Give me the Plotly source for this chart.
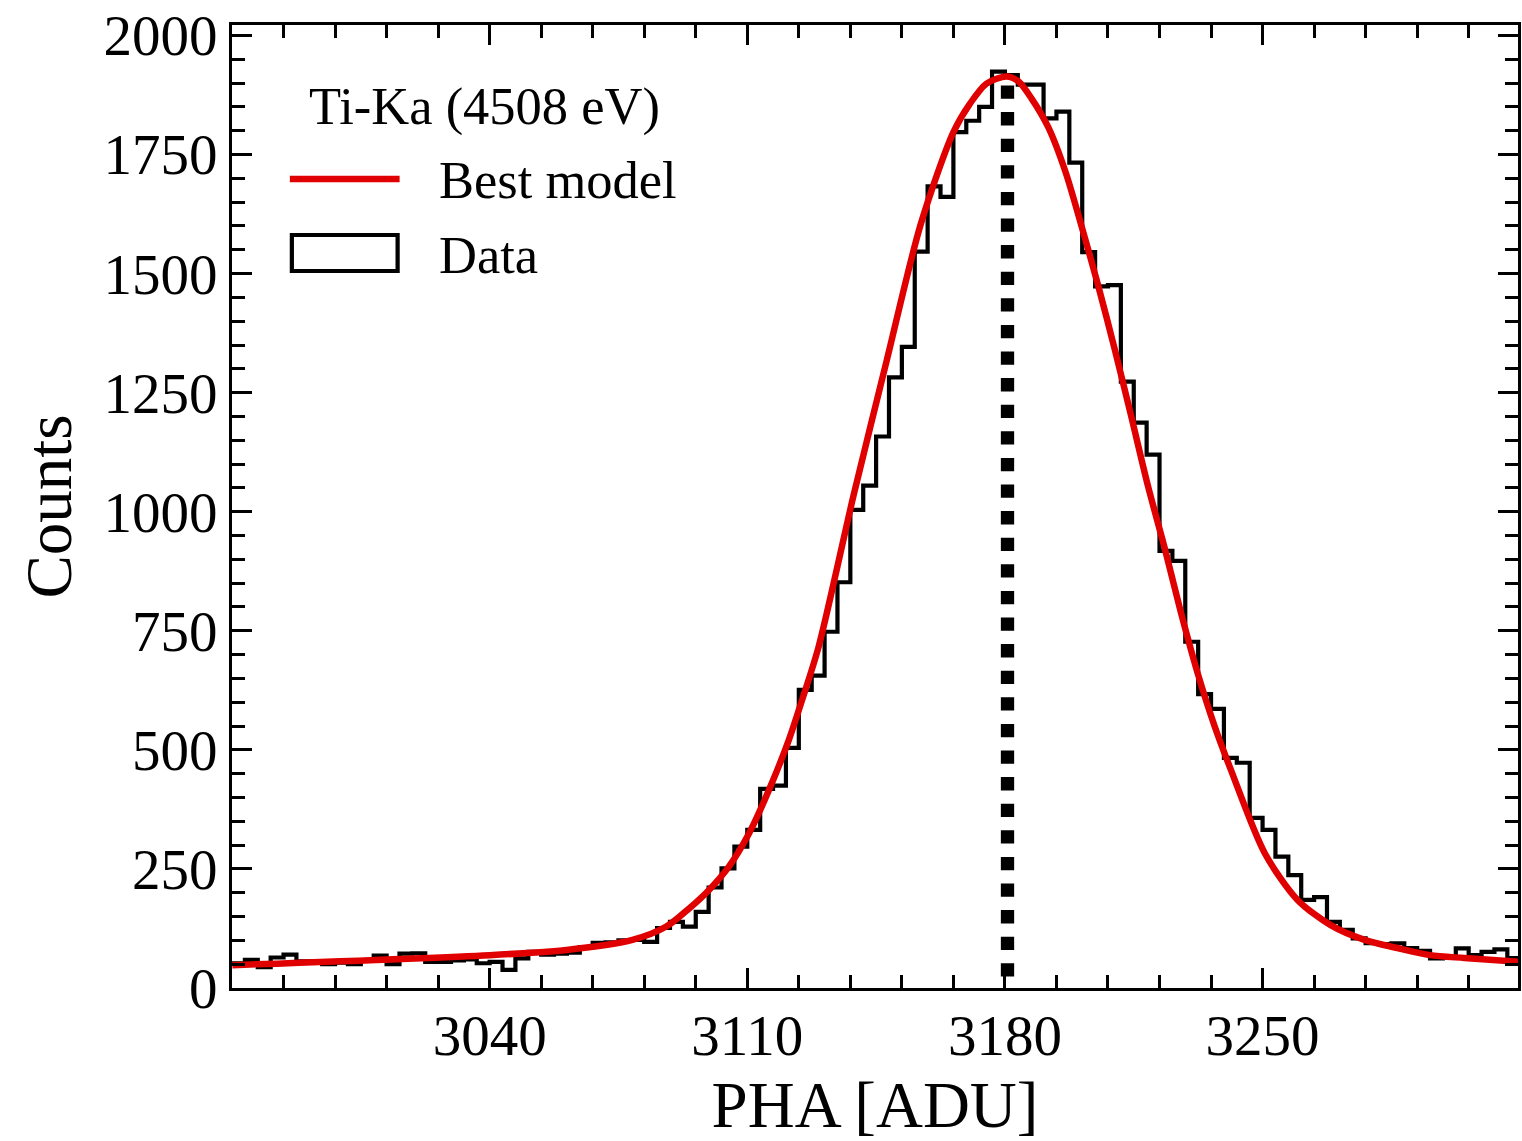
import numpy as np
import plotly.graph_objects as go

# ---------------- data ----------------
BIN_START = 2970.0
BIN_WIDTH = 3.5
counts = [
    52, 59, 44, 64, 70, 56, 55, 50, 53, 50,
    58, 68, 50, 72, 73, 55, 55, 58, 60, 52,
    55, 38, 62, 76, 70, 72, 74, 86, 95, 96,
    100, 101, 97, 126, 139, 129, 160, 211, 251, 297,
    332, 418, 425, 504, 626, 656, 748, 852, 1004, 1055,
    1158, 1282, 1346, 1546, 1683, 1661, 1797, 1821, 1850, 1924,
    1917, 1897, 1897, 1826, 1840, 1733, 1545, 1473, 1476, 1273,
    1187, 1120, 918, 897, 727, 617, 586, 483, 473, 357,
    332, 276, 237, 185, 191, 139, 122, 104, 94, 92,
    94, 84, 78, 62, 65, 83, 69, 76, 81, 63,
]

model_x = [2970.1, 3040.0, 3060.9, 3078.8, 3088.0, 3094.2, 3099.6, 3105.0, 3110.5,
           3115.9, 3121.3, 3124.9, 3129.4, 3138.9, 3147.9, 3157.1, 3166.0, 3170.6, 3175.0,
           3180.4, 3183.6, 3187.2, 3191.8, 3196.4, 3200.7, 3205.3, 3209.9, 3214.3,
           3218.9, 3223.5, 3227.8, 3232.4, 3237.0, 3241.4, 3250.6, 3259.5, 3268.5,
           3277.7, 3286.6, 3295.5, 3304.8, 3319.7]
model_y = [48, 69, 80, 101, 129, 167, 206, 255, 325,
           416, 521, 605, 717, 1035, 1318, 1603, 1797, 1858, 1899,
           1914, 1904, 1868, 1807, 1715, 1603, 1476, 1339, 1201,
           1053, 921, 789, 660, 549, 458, 283, 185, 132,
           101, 84, 69, 63, 55]

peak_center = 3180.7
peak_line_top = 1895

x_major_ticks = [3040, 3110, 3180, 3250]
x_tick_labels = ["3040", "3110", "3180", "3250"]
y_major_ticks = [0, 250, 500, 750, 1000, 1250, 1500, 1750, 2000]
y_tick_labels = [str(v) for v in y_major_ticks]

legend_title = "Ti-Ka (4508 eV)"
legend_model = "Best model"
legend_data = "Data"

# ---------------- figure ----------------
edges = BIN_START + BIN_WIDTH * np.arange(len(counts) + 1)
step_y = list(counts) + [counts[-1]]

FONT = "Liberation Serif, Times New Roman, serif"

fig = go.Figure()
fig.add_trace(go.Scatter(
    x=edges, y=step_y, mode="lines", line=dict(shape="hv", color="black", width=4.2),
    name=legend_data, showlegend=False, hoverinfo="x+y"))
fig.add_trace(go.Scatter(
    x=[peak_center, peak_center], y=[peak_line_top, 0], mode="lines",
    line=dict(color="black", width=13.3, dash="dot"), showlegend=False, hoverinfo="skip"))
fig.add_trace(go.Scatter(
    x=model_x, y=model_y, mode="lines",
    line=dict(shape="spline", smoothing=0.8, color="#e00000", width=6.5),
    name=legend_model, showlegend=False))

axis_common = dict(
    showline=True, linecolor="black", linewidth=3, mirror="allticks",
    ticks="inside", ticklen=20, tickwidth=3, tickcolor="black",
    showgrid=False, zeroline=False,
    tickfont=dict(family=FONT, size=57, color="black"),
)

fig.update_xaxes(
    range=[2970, 3319.4], tickmode="array", tickvals=x_major_ticks, ticktext=x_tick_labels,
    ticklabelstandoff=-4,
    minor=dict(ticks="inside", ticklen=13, tickwidth=2.5, tickcolor="black",
               tickmode="linear", tick0=2970, dtick=14, showgrid=False),
    title=dict(text="PHA [ADU]", font=dict(family=FONT, size=65, color="black"), standoff=22),
    **axis_common)
fig.update_yaxes(
    range=[0, 2022], tickmode="array", tickvals=y_major_ticks, ticktext=y_tick_labels,
    minor=dict(ticks="inside", ticklen=13, tickwidth=2.5, tickcolor="black",
               tickmode="linear", tick0=0, dtick=50, showgrid=False),
    title=dict(text="Counts", font=dict(family=FONT, size=65, color="black"), standoff=11),
    **axis_common)

# manual legend (paper coordinates of plot area)
L, W, B, H = 232, 1289, 988, 963
def px(x):
    return (x - L) / W
def py(y):
    return (B - y) / H

fig.add_shape(type="line", xref="paper", yref="paper", x0=px(290), x1=px(400), y0=py(179), y1=py(179),
              line=dict(color="#e00000", width=6.5))
fig.add_shape(type="rect", xref="paper", yref="paper", x0=px(292), x1=px(398), y0=py(271), y1=py(235),
              line=dict(color="black", width=4.2), fillcolor="rgba(0,0,0,0)")
for txt, x, y in [(legend_title, 307, 106), (legend_model, 437, 180), (legend_data, 437, 255)]:
    fig.add_annotation(text=txt, xref="paper", yref="paper", x=px(x), y=py(y), xanchor="left",
                       yanchor="middle", showarrow=False, font=dict(family=FONT, size=52.5, color="black"))

fig.update_layout(
    width=1522, height=1141, autosize=False,
    margin=dict(l=232, r=1, t=25, b=153),
    paper_bgcolor="white", plot_bgcolor="white", showlegend=False,
)

fig.write_html("out.html", config={"displayModeBar": False},
               post_script="document.body.style.margin='0';")
